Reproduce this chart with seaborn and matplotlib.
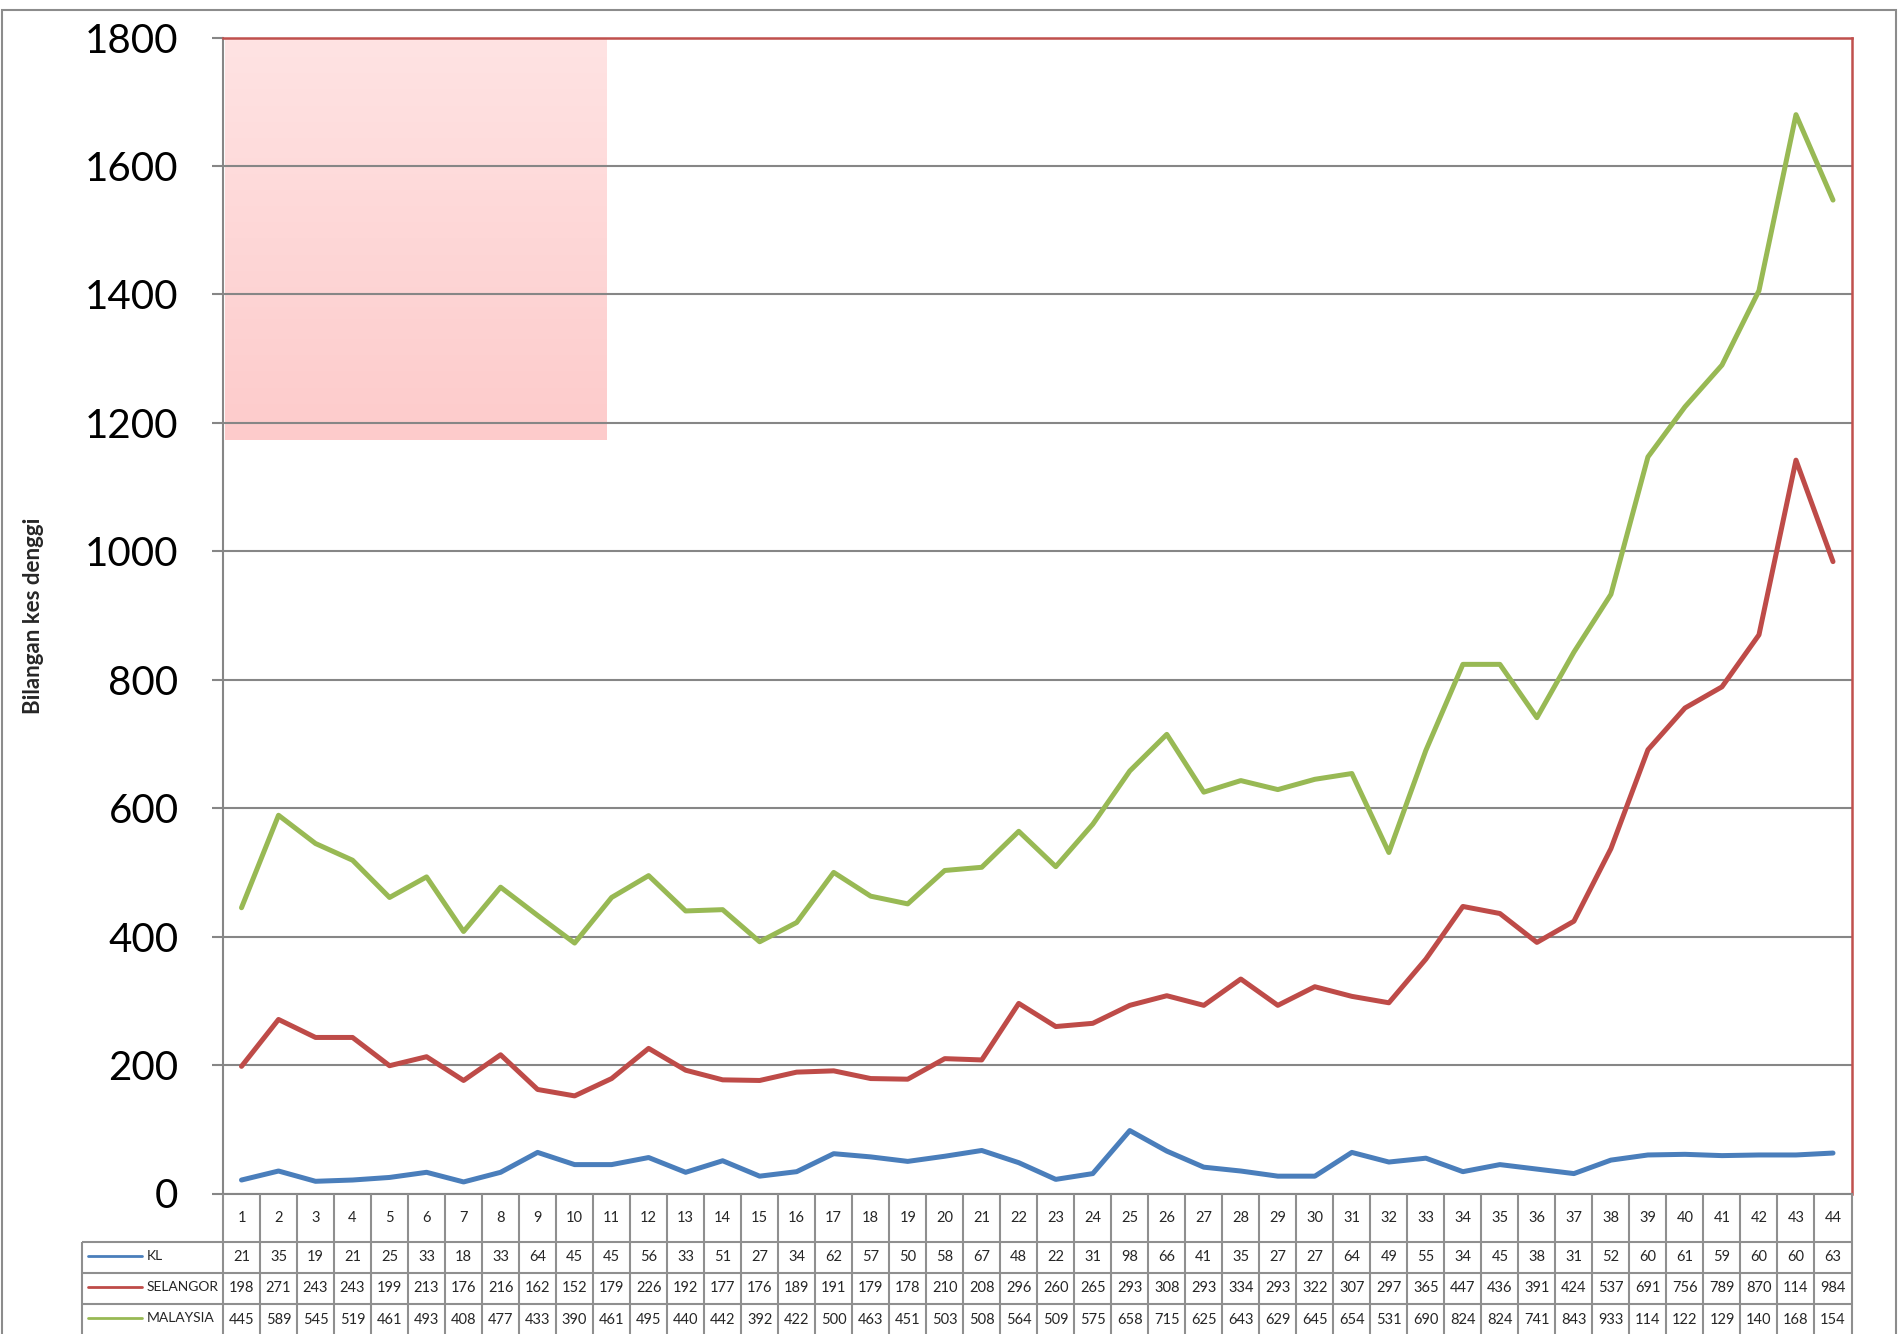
import matplotlib.pyplot as plt
import seaborn as sns
import pandas as pd
import numpy as np
from matplotlib.colors import LinearSegmentedColormap
from matplotlib.patches import Rectangle

# --- DATA (minggu epidemiologi 1-44) ---
MINGGU = list(range(1, 45))
KL = [21, 35, 19, 21, 25, 33, 18, 33, 64, 45, 45, 56, 33,
      51, 27, 34, 62, 57, 50, 58, 67, 48, 22, 31, 98, 66, 41, 35, 27,
      27, 64, 49, 55, 34, 45, 38, 31, 52, 60, 61, 59, 60, 60, 63]
SELANGOR = [198, 271, 243, 243, 199, 213, 176, 216, 162, 152, 179, 226, 192,
            177, 176, 189, 191, 179, 178, 210, 208, 296, 260, 265, 293, 308, 293, 334, 293,
            322, 307, 297, 365, 447, 436, 391, 424, 537, 691, 756, 789, 870, 1142, 984]
MALAYSIA = [445, 589, 545, 519, 461, 493, 408, 477, 433, 390, 461, 495, 440,
            442, 392, 422, 500, 463, 451, 503, 508, 564, 509, 575, 658, 715, 625, 643, 629,
            645, 654, 531, 690, 824, 824, 741, 843, 933, 1147, 1225, 1290, 1406, 1680, 1547]
SERIES = ['KL', 'SELANGOR', 'MALAYSIA']
COLORS = {'KL': '#4A7EBB', 'SELANGOR': '#BE4B48', 'MALAYSIA': '#98B954'}
Y_TICKS = [0, 200, 400, 600, 800, 1000, 1200, 1400, 1600, 1800]

GRID = '#868686'

sns.set_theme(style="white")
plt.rcParams['font.family'] = ['Lato', 'DejaVu Sans']

W, H = 1900, 1334
fig = plt.figure(figsize=(19, 13.34), dpi=100)

# plot area in pixels
PL, PR, PT, PB = 223, 1851.5, 37.6, 1193.5
TL = 82  # left edge of the data table
ax = fig.add_axes([PL / W, 1 - PB / H, (PR - PL) / W, (PB - PT) / H])

df = pd.DataFrame({
    'minggu': MINGGU * 3,
    'kes': KL + SELANGOR + MALAYSIA,
    'kawasan': ['KL'] * len(KL) + ['SELANGOR'] * len(SELANGOR) + ['MALAYSIA'] * len(MALAYSIA),
})

# empty pink text box in the top-left corner
pink = LinearSegmentedColormap.from_list('pink', ['#FFE3E3', '#FDCBCB'])
ax.imshow(np.linspace(0, 1, 100).reshape(-1, 1), cmap=pink, aspect='auto',
          extent=[0.001, 0.235, 0.652, 1], transform=ax.transAxes, zorder=0.2)

sns.lineplot(data=df, x='minggu', y='kes', hue='kawasan', hue_order=SERIES,
             palette=COLORS, linewidth=3.6, legend=False, estimator=None,
             solid_capstyle='round', solid_joinstyle='round', ax=ax, zorder=3)

ax.set_xlim(0.5, 44.5)
ax.set_ylim(0, 1800)
ax.set_yticks(Y_TICKS)
ax.set_xticks([])
ax.set_xlabel('')
ax.yaxis.grid(True, color=GRID, linewidth=1.5)
ax.xaxis.grid(False)
for s in ['left', 'bottom']:
    ax.spines[s].set_color(GRID)
    ax.spines[s].set_linewidth(1.5)
for s in ['top', 'right']:
    ax.spines[s].set_color('#C0504D')
    ax.spines[s].set_linewidth(1.8)
ax.tick_params(axis='y', left=True, length=8, width=1.5, color=GRID,
               direction='out', pad=24, labelsize=29, labelcolor='black')

ax.set_ylabel('Bilangan kes denggi', fontsize=16, fontweight='bold')
ax.yaxis.set_label_coords((44 - PL) / (PR - PL), 0.5)

# --- DATA TABLE under the chart ---
tab = fig.add_axes([TL / W, 0, (PR - TL) / W, (H - PB) / H])
ppu = (PR - PL) / 44
x_left = 0.5 - (PL - TL) / ppu
tab.set_xlim(x_left, 44.5)
tab.set_ylim(H - PB, 0)
tab.axis('off')

line_kw = dict(color='#8f8f8f', linewidth=1.5, clip_on=False)
tab.vlines([0.5 + k for k in range(45)], 0, H - PB, **line_kw)
tab.vlines(x_left, 48, H - PB, **line_kw)
tab.hlines([48, 79, 110.5], x_left, 44.5, **line_kw)

for w in MINGGU:
    tab.text(w, 24, str(w), ha='center', va='center', fontsize=10.5)

row_y = {'KL': 63.5, 'SELANGOR': 95, 'MALAYSIA': 126}
values = {'KL': KL, 'SELANGOR': SELANGOR, 'MALAYSIA': MALAYSIA}
for name in SERIES:
    yc = row_y[name]
    for w, v in zip(MINGGU, values[name]):
        tab.text(w, yc, str(v)[:3], ha='center', va='center', fontsize=10.5)
    x0 = 0.5 + (88 - PL) / ppu
    x1 = 0.5 + (142 - PL) / ppu
    tab.plot([x0, x1], [yc - 1.5, yc - 1.5], color=COLORS[name], linewidth=2, clip_on=False)
    tab.text(0.5 + (147 - PL) / ppu, yc - 1.5, name, ha='left', va='center', fontsize=10)

# outer chart border
fig.patches.append(Rectangle((2 / W, -0.01), (1896 - 2) / W, 1 - 10 / H + 0.01,
                             transform=fig.transFigure, fill=False,
                             edgecolor='#8c8c8c', linewidth=1.5))

fig.savefig('out.png', dpi=100, facecolor='white')
